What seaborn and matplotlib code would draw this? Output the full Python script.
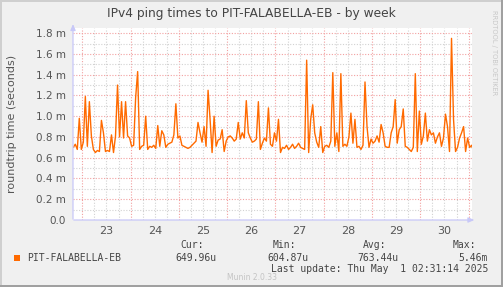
import numpy as np
import pandas as pd
import matplotlib
matplotlib.use("Agg")
import matplotlib.pyplot as plt
import seaborn as sns
from matplotlib.ticker import FixedLocator, FuncFormatter, MultipleLocator

# ---------------- data ----------------
title = "IPv4 ping times to PIT-FALABELLA-EB - by week"
ylabel = "roundtrip time (seconds)"
series_name = "PIT-FALABELLA-EB"
start_day = 22.8125          # 22 Apr 19:30, expressed as day-of-month
step_hours = 1.0
rtt_ms = [
    0.70, 0.73, 0.68, 0.98, 0.68, 0.75, 1.19, 0.71, 1.14, 0.81,
    0.68, 0.65, 0.67, 0.66, 0.96, 0.84, 0.66, 0.67, 0.66, 0.82,
    0.65, 0.81, 1.30, 0.80, 1.14, 0.79, 1.14, 0.81, 0.79, 0.71,
    0.72, 1.18, 1.43, 0.68, 0.71, 0.72, 1.00, 0.68, 0.71, 0.70,
    0.72, 0.69, 0.91, 0.71, 0.86, 0.82, 0.70, 0.73, 0.74, 0.75,
    0.82, 1.12, 0.79, 0.81, 0.72, 0.71, 0.70, 0.69, 0.70, 0.72,
    0.74, 0.76, 0.94, 0.84, 0.75, 0.90, 0.71, 1.25, 0.97, 0.65,
    1.00, 0.71, 0.77, 0.78, 0.87, 0.66, 0.76, 0.80, 0.81, 0.79,
    0.76, 0.78, 0.94, 0.78, 0.84, 0.79, 1.15, 0.84, 0.79, 0.75,
    0.76, 0.78, 1.14, 0.68, 0.74, 0.79, 0.76, 1.08, 0.73, 0.71,
    0.84, 0.76, 0.97, 0.65, 0.70, 0.69, 0.72, 0.68, 0.70, 0.73,
    0.69, 0.71, 0.74, 0.70, 0.69, 0.68, 1.54, 0.65, 0.97, 1.11,
    0.84, 0.75, 0.70, 0.90, 0.65, 0.71, 0.72, 0.70, 0.76, 1.42,
    0.71, 0.84, 0.66, 1.41, 0.71, 0.73, 0.71, 0.80, 1.03, 0.74,
    0.97, 0.70, 0.71, 0.68, 0.72, 1.33, 0.90, 0.70, 0.78, 0.74,
    0.76, 0.81, 0.75, 0.92, 0.84, 0.71, 0.70, 0.70, 0.84, 0.90,
    1.16, 0.74, 0.87, 0.90, 1.07, 0.71, 0.70, 0.68, 0.66, 0.70,
    1.41, 0.66, 1.05, 0.73, 0.81, 1.03, 0.76, 0.87, 0.82, 0.84,
    0.74, 0.80, 0.84, 0.71, 0.79, 1.02, 0.90, 0.66, 1.75, 0.97,
    0.66, 0.70, 0.79, 0.84, 0.90, 0.66, 0.79, 0.70, 0.72, 0.66,
]
day_labels = [23, 24, 25, 26, 27, 28, 29, 30]
legend_heads = ["Cur:", "Min:", "Avg:", "Max:"]
legend_vals = ["649.96u", "604.87u", "763.44u", "5.46m"]
last_update = "Last update: Thu May  1 02:31:14 2025"
version_text = "Munin 2.0.33"
side_text = "RRDTOOL / TOBI OETIKER"

# ---------------- styling ----------------
W, H = 503, 287
BG = "#F0F0F0"
LINE = "#FF6A00"
TXT = "#555555"

df = pd.DataFrame({
    "day": start_day + np.arange(len(rtt_ms)) * step_hours / 24.0,
    "rtt": rtt_ms,
})

sns.set_style("white")
plt.rcParams["font.family"] = ["DejaVu Sans"]

fig = plt.figure(figsize=(W / 100, H / 100), dpi=100, facecolor=BG)
ax = fig.add_axes([73 / W, 67 / H, 399 / W, 192 / H])
ax.set_facecolor("white")

sns.lineplot(data=df, x="day", y="rtt", ax=ax, color=LINE, linewidth=1.0,
             estimator=None, legend=False, zorder=3)

ax.set_xlim(22.807, 31.07)
ax.set_ylim(0, 1.85)

# grids
major_days = [d for d in day_labels] + [day_labels[-1] + 1]
ax.xaxis.set_major_locator(FixedLocator(major_days))
six_h = np.arange(22.75, 31.1, 0.25)
ax.xaxis.set_minor_locator(FixedLocator(six_h))
label_map = {round(d + 0.5, 3): str(d) for d in day_labels}
ax.xaxis.set_major_formatter(FuncFormatter(lambda v, p: ""))
ax.xaxis.set_minor_formatter(FuncFormatter(lambda v, p: label_map.get(round(v, 3), "")))

ax.yaxis.set_major_locator(MultipleLocator(0.2))
ax.yaxis.set_minor_locator(MultipleLocator(0.1))
ax.yaxis.set_major_formatter(FuncFormatter(lambda v, p: "0.0" if abs(v) < 1e-9 else f"{v:.1f} m"))

ax.grid(which="major", color="#F2A0A0", linestyle=(0, (1, 1.5)), linewidth=0.8, zorder=1)
ax.grid(which="minor", color="#D2D2D2", linestyle=(0, (1, 1.5)), linewidth=0.8, zorder=0)
ax.set_axisbelow(True)

ax.tick_params(axis="x", which="major", length=2, color="#F2A0A0", labelsize=7.5)
ax.tick_params(axis="x", which="minor", length=0, pad=4, labelsize=8, labelcolor=TXT)
ax.tick_params(axis="y", which="major", length=2, color="#F2A0A0", pad=3, labelsize=7.5, labelcolor=TXT)
ax.tick_params(axis="y", which="minor", length=2, color="#D2D2D2")

for s in ax.spines.values():
    s.set_visible(False)

AXC = "#C8C8F8"
ax.annotate("", xy=(1.013, 0), xytext=(-0.005, 0), xycoords="axes fraction",
            arrowprops=dict(arrowstyle="-|>,head_length=0.35,head_width=0.15", color=AXC, lw=0.9),
            annotation_clip=False)
ax.annotate("", xy=(0, 1.035), xytext=(0, -0.01), xycoords="axes fraction",
            arrowprops=dict(arrowstyle="-|>,head_length=0.35,head_width=0.15", color=AXC, lw=0.9),
            annotation_clip=False)

ax.set_xlabel("")
ax.set_ylabel(ylabel, fontsize=8, color=TXT)
ax.yaxis.set_label_coords(-56 / 399, 0.5)

# title
fig.text(251 / W, 1 - 14 / H, title, ha="center", va="center", fontsize=8.8, color="#444444")
fig.text(494 / W, 1 - 10 / H, side_text, rotation=270, ha="center", va="top",
         fontsize=4.8, color="#C8C8C8")

# legend area
mono = "DejaVu Sans Mono"
fig.add_artist(plt.Rectangle((14 / W, 1 - 261 / H), 6 / W, 6 / H,
                             transform=fig.transFigure, color=LINE, lw=0))
fig.text(27 / W, 1 - 258 / H, series_name, ha="left", va="center",
         fontsize=7, family=mono, color="#444444")
head_right = [204, 296, 386, 476]
val_right = [217, 308, 398, 488]
for h, v, hr, vr in zip(legend_heads, legend_vals, head_right, val_right):
    fig.text(hr / W, 1 - 245 / H, h, ha="right", va="center", fontsize=7, family=mono, color="#444444")
    fig.text(vr / W, 1 - 258 / H, v, ha="right", va="center", fontsize=7, family=mono, color="#444444")
fig.text(488 / W, 1 - 269.5 / H, last_update, ha="right", va="center", fontsize=7,
         family=mono, color="#444444")
fig.text(252 / W, 1 - 277 / H, version_text, ha="center", va="center", fontsize=5.5,
         color="#C4C4C4")

# frame
fig.add_artist(plt.Rectangle((0, 1 - 2 / H), 1, 2 / H, transform=fig.transFigure, color="#CFCFCF", lw=0))
fig.add_artist(plt.Rectangle((0, 0), 2 / W, 1, transform=fig.transFigure, color="#CFCFCF", lw=0))
fig.add_artist(plt.Rectangle((0, 0), 1, 2 / H, transform=fig.transFigure, color="#A0A0A0", lw=0))
fig.add_artist(plt.Rectangle((1 - 2 / W, 0), 2 / W, 1, transform=fig.transFigure, color="#A0A0A0", lw=0))

fig.savefig("out.png", dpi=100, facecolor=BG)
